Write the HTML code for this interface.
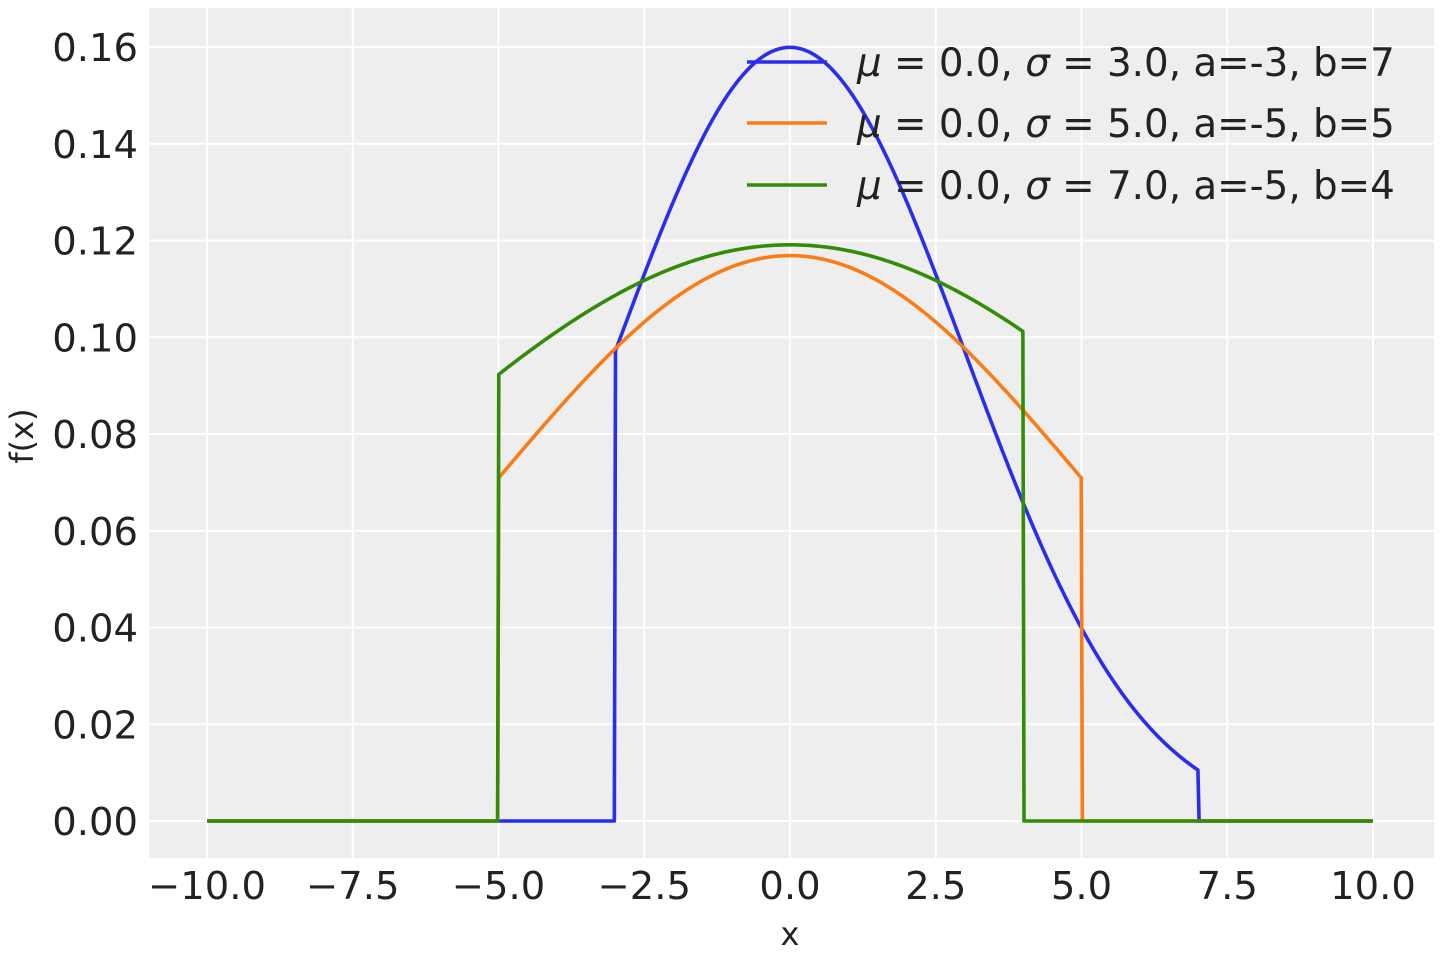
<!DOCTYPE html>
<html><head><meta charset="utf-8"><style>
html,body{margin:0;padding:0;background:#fff;}
svg text{font-family:"DejaVu Sans","Liberation Sans",sans-serif;fill:#222;}
</style></head><body>
<svg id="s" width="1440" height="960" xmlns="http://www.w3.org/2000/svg">
<rect x="149" y="8" width="1285" height="850" fill="#eeeeee"/>
<g id="grid" stroke="#fff" stroke-width="2"></g>
<g id="ticks" font-size="38.5"></g>
<text x="790" y="945" font-size="32" text-anchor="middle">x</text>
<text transform="translate(33,436) rotate(-90)" font-size="32" text-anchor="middle">f(x)</text>
<g id="lines" fill="none" stroke-width="3.6" stroke-linejoin="round"></g>
<g font-size="38.8">
<line x1="747" y1="62" x2="827" y2="62" stroke="#2a2eec" stroke-width="3.6"/>
<line x1="747" y1="123" x2="827" y2="123" stroke="#fa7c17" stroke-width="3.6"/>
<line x1="747" y1="185" x2="827" y2="185" stroke="#328c06" stroke-width="3.6"/>
<text x="857" y="76"><tspan font-style="italic">μ</tspan> = 0.0, <tspan font-style="italic">σ</tspan> = 3.0, a=-3, b=7</text>
<text x="857" y="137"><tspan font-style="italic">μ</tspan> = 0.0, <tspan font-style="italic">σ</tspan> = 5.0, a=-5, b=5</text>
<text x="857" y="199"><tspan font-style="italic">μ</tspan> = 0.0, <tspan font-style="italic">σ</tspan> = 7.0, a=-5, b=4</text>
</g>
</svg>
<script>
var NS="http://www.w3.org/2000/svg";
function X(v){return 790+v*58.3;}
function Y(v){return 821-v*4837.5;}
var g=document.getElementById("grid"),t=document.getElementById("ticks");
for(var i=-4;i<=4;i++){var v=i*2.5,x=X(v);
 var l=document.createElementNS(NS,"line");l.setAttribute("x1",x);l.setAttribute("x2",x);l.setAttribute("y1",8);l.setAttribute("y2",858);g.appendChild(l);
 var tx=document.createElementNS(NS,"text");tx.setAttribute("x",x);tx.setAttribute("y",899);tx.setAttribute("text-anchor","middle");
 tx.textContent=(v<0?"\u2212":"")+Math.abs(v).toFixed(1);t.appendChild(tx);}
for(var j=0;j<=8;j++){var v=j*0.02,y=Y(v);
 var l=document.createElementNS(NS,"line");l.setAttribute("x1",149);l.setAttribute("x2",1434);l.setAttribute("y1",y);l.setAttribute("y2",y);g.appendChild(l);
 var tx=document.createElementNS(NS,"text");tx.setAttribute("x",138);tx.setAttribute("y",y+14);tx.setAttribute("text-anchor","end");
 tx.textContent=v.toFixed(2);t.appendChild(tx);}
var series=[[3,-3,7,0.83153,"#2a2eec"],[5,-5,5,0.68269,"#fa7c17"],[7,-5,4,0.4785,"#328c06"]];
var L=document.getElementById("lines");
series.forEach(function(s){var d="";var n=1000;
 for(var k=0;k<n;k++){var x=-10+20*k/(n-1);var f=0;
  if(x>=s[1]&&x<=s[2]){f=Math.exp(-x*x/(2*s[0]*s[0]))/(s[0]*Math.sqrt(2*Math.PI))/s[3];}
  d+=(k?"L":"M")+X(x).toFixed(2)+" "+Y(f).toFixed(2);}
 var p=document.createElementNS(NS,"path");p.setAttribute("d",d);p.setAttribute("stroke",s[4]);L.appendChild(p);});
</script>
</body></html>
